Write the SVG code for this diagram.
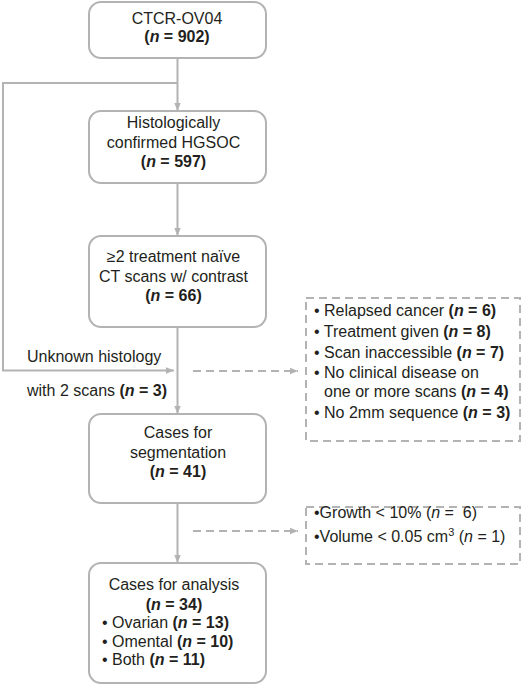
<svg xmlns="http://www.w3.org/2000/svg" width="521" height="685" viewBox="0 0 521 685">
<style>
text{font-family:"Liberation Sans",Arial,sans-serif;font-size:16px;fill:#231f20}
.c{text-anchor:middle}
.b{font-weight:bold}
.i{font-style:italic}
.box{fill:#fff;stroke:#b3b3b3;stroke-width:2}
.dbox{fill:none;stroke:#b3b3b3;stroke-width:2;stroke-dasharray:8 5}
.ln{fill:none;stroke:#b3b3b3;stroke-width:2}
.dl{fill:none;stroke:#b3b3b3;stroke-width:2;stroke-dasharray:8 5}
</style>
<defs>
<marker id="ah" markerWidth="8" markerHeight="8" refX="8" refY="4" orient="auto" markerUnits="userSpaceOnUse">
<path d="M0,0.8 L8,4 L0,7.2 Z" fill="#b3b3b3"/>
</marker>
</defs>
<rect width="521" height="685" fill="#fff"/>
<g id="connectors">
<line class="ln" x1="177.5" y1="58" x2="177.5" y2="111" marker-end="url(#ah)"/>
<polyline class="ln" points="177.5,83 3,83 3,370.5 174,370.5" marker-end="url(#ah)"/>
<line class="ln" x1="177.5" y1="183" x2="177.5" y2="236" marker-end="url(#ah)"/>
<line class="ln" x1="177.5" y1="327" x2="177.5" y2="414" marker-end="url(#ah)"/>
<line class="dl" x1="193" y1="371" x2="298" y2="371" marker-end="url(#ah)"/>
<line class="ln" x1="177.5" y1="503" x2="177.5" y2="563" marker-end="url(#ah)"/>
<line class="dl" x1="193" y1="531" x2="298" y2="531" marker-end="url(#ah)"/>
</g>
<g id="n1">
<rect class="box" x="89" y="2" width="177" height="56" rx="12"/>
<text class="c" x="177" y="24">CTCR-OV04</text>
<text class="c b" x="177" y="42">(<tspan class="i">n</tspan> = 902)</text>
</g>
<g id="n2">
<rect class="box" x="89" y="111" width="177" height="72" rx="12"/>
<text class="c" x="173.5" y="128">Histologically</text>
<text class="c" x="173.5" y="147.5">confirmed HGSOC</text>
<text class="c b" x="173.5" y="167">(<tspan class="i">n</tspan> = 597)</text>
</g>
<g id="n3">
<rect class="box" x="89" y="236" width="177" height="91" rx="12"/>
<text class="c" x="173.5" y="262">≥2 treatment naïve</text>
<text class="c" x="173.5" y="282">CT scans w/ contrast</text>
<text class="c b" x="173.5" y="301">(<tspan class="i">n</tspan> = 66)</text>
</g>
<g id="lbl-unknown">
<text x="27" y="362">Unknown histology</text>
<text x="27" y="396">with 2 scans <tspan class="b">(<tspan class="i">n</tspan> = 3)</tspan></text>
</g>
<g id="excl1">
<rect class="dbox" x="306" y="298" width="214" height="143"/>
<text x="314" y="316">• Relapsed cancer <tspan class="b">(<tspan class="i">n</tspan> = 6)</tspan></text>
<text x="314" y="337">• Treatment given <tspan class="b">(<tspan class="i">n</tspan> = 8)</tspan></text>
<text x="314" y="358">• Scan inaccessible <tspan class="b">(<tspan class="i">n</tspan> = 7)</tspan></text>
<text x="314" y="378">• No clinical disease on</text>
<text x="324" y="397">one or more scans <tspan class="b">(<tspan class="i">n</tspan> = 4)</tspan></text>
<text x="314" y="418">• No 2mm sequence <tspan class="b">(<tspan class="i">n</tspan> = 3)</tspan></text>
</g>
<g id="n4">
<rect class="box" x="89" y="414" width="177" height="89" rx="12"/>
<text class="c" x="178" y="438">Cases for</text>
<text class="c" x="178" y="458">segmentation</text>
<text class="c b" x="178" y="477">(<tspan class="i">n</tspan> = 41)</text>
</g>
<g id="excl2">
<rect class="dbox" x="306" y="507" width="214" height="57"/>
<text x="314" y="518">•Growth &lt; 10% (<tspan class="i">n</tspan> =&#160; 6)</text>
<text x="314" y="542">•Volume &lt; 0.05 cm<tspan font-size="11" dy="-6">3</tspan><tspan dy="6"> (</tspan><tspan class="i">n</tspan> = 1)</text>
</g>
<g id="n5">
<rect class="box" x="89" y="563" width="177" height="120" rx="12"/>
<text class="c" x="174" y="590">Cases for analysis</text>
<text class="c b" x="174" y="610">(<tspan class="i">n</tspan> = 34)</text>
<text x="102" y="628">• Ovarian <tspan class="b">(<tspan class="i">n</tspan> = 13)</tspan></text>
<text x="102" y="647">• Omental <tspan class="b">(<tspan class="i">n</tspan> = 10)</tspan></text>
<text x="102" y="665">• Both <tspan class="b">(<tspan class="i">n</tspan> = 11)</tspan></text>
</g>
</svg>
